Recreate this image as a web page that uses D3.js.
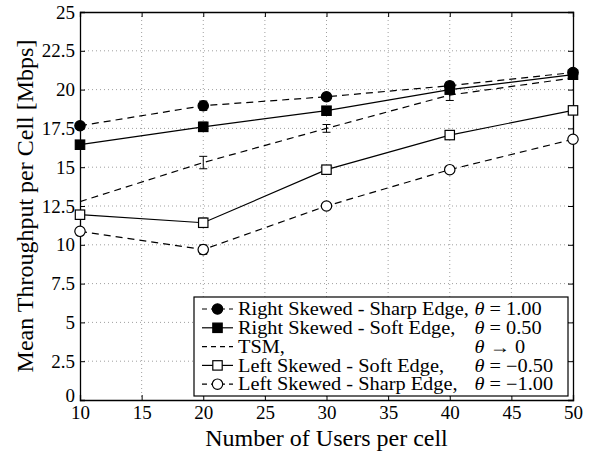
<!DOCTYPE html>
<html><head><meta charset="utf-8">
<script src="https://cdn.jsdelivr.net/npm/d3@7"></script>
<style>body{margin:0;background:#fff;}</style></head>
<body><svg id="c" width="592" height="452"></svg>
<script>
const users = [10, 20, 30, 40, 50];
const rightSharp = [17.67, 18.96, 19.54, 20.25, 21.1];
const rightSoft  = [16.45, 17.6, 18.64, 20.0, 20.96];
const tsm        = [12.78, 15.3, 17.5, 19.65, 20.75];
const leftSoft   = [11.94, 11.42, 14.84, 17.07, 18.66];
const leftSharp  = [10.87, 9.69, 12.5, 14.84, 16.8];
const rightSharpErr = [0, 0.3, 0.15, 0.2, 0];
const rightSoftErr  = [0, 0.3, 0.15, 0.2, 0];
const tsmErr        = [0, 0.4, 0.25, 0.35, 0];
const leftSoftErr   = [0, 0.3, 0.1, 0.1, 0];
const leftSharpErr  = [0, 0.3, 0.1, 0.1, 0];
const xTicks = [10, 15, 20, 25, 30, 35, 40, 45, 50];
const yTicks = [0, 2.5, 5, 7.5, 10, 12.5, 15, 17.5, 20, 22.5, 25];
const seriesNames = ["Right Skewed - Sharp Edge,", "Right Skewed - Soft Edge,", "TSM,", "Left Skewed - Soft Edge,", "Left Skewed - Sharp Edge,"];
const thetaLabels = ["= 1.00", "= 0.50", "→ 0", "= −0.50", "= −1.00"];

const FONT = '"Liberation Serif", "Times New Roman", Times, serif';
const series = [
  {name: seriesNames[0], theta: thetaLabels[0], vals: rightSharp, err: rightSharpErr, marker: "circle", fill: "#000", dash: "7,5"},
  {name: seriesNames[1], theta: thetaLabels[1], vals: rightSoft, err: rightSoftErr, marker: "square", fill: "#000", dash: null},
  {name: seriesNames[2], theta: thetaLabels[2], vals: tsm, err: tsmErr, marker: null, fill: null, dash: "7,5"},
  {name: seriesNames[3], theta: thetaLabels[3], vals: leftSoft, err: leftSoftErr, marker: "square", fill: "#fff", dash: null},
  {name: seriesNames[4], theta: thetaLabels[4], vals: leftSharp, err: leftSharpErr, marker: "circle", fill: "#fff", dash: "7,5"}
];

const L = 80, R = 573, T = 12, B = 400;
const svg = d3.select("#c");
const x = d3.scaleLinear().domain([10, 50]).range([L, R]);
const y = d3.scaleLinear().domain([0, 25]).range([B, T]);

// grid
const g = svg.append("g");
g.selectAll(".gx").data(xTicks.slice(1, -1)).enter().append("line")
  .attr("x1", d => x(d)).attr("x2", d => x(d)).attr("y1", T).attr("y2", B)
  .attr("stroke", "#888").attr("stroke-width", 0.8).attr("stroke-dasharray", "1,3");
g.selectAll(".gy").data(yTicks.slice(1, -1)).enter().append("line")
  .attr("y1", d => y(d)).attr("y2", d => y(d)).attr("x1", L).attr("x2", R)
  .attr("stroke", "#888").attr("stroke-width", 0.8).attr("stroke-dasharray", "1,3");

// axes
const fs = 19;
const xa = svg.append("g").attr("transform", `translate(0,${B})`)
  .call(d3.axisBottom(x).tickValues(xTicks).tickSize(-5).tickPadding(5).tickFormat(d3.format("d")));
const xa2 = svg.append("g").attr("transform", `translate(0,${T})`)
  .call(d3.axisTop(x).tickValues(xTicks).tickSize(-5).tickFormat(""));
const ya = svg.append("g").attr("transform", `translate(${L},0)`)
  .call(d3.axisLeft(y).tickValues(yTicks).tickSize(-5).tickPadding(5).tickFormat(d => d));
const ya2 = svg.append("g").attr("transform", `translate(${R},0)`)
  .call(d3.axisRight(y).tickValues(yTicks).tickSize(-5).tickFormat(""));
[xa, xa2, ya, ya2].forEach(a => {
  a.attr("font-family", FONT).attr("font-size", fs);
  a.select(".domain").attr("stroke", "#000").attr("stroke-width", 1.3);
  a.selectAll(".tick line").attr("stroke", "#000").attr("stroke-width", 1);
  a.selectAll("text").style("font-size", fs + "px").style("font-family", FONT).attr("fill", "#000");
});
xa.selectAll("text").attr("dy", "0.72em");
ya.selectAll(".tick").filter(d => d === 0).select("text").attr("dy", "0.1em");

// axis labels
svg.append("text").attr("x", (L + R) / 2).attr("y", 446).attr("text-anchor", "middle")
  .style("font-family", FONT).style("font-size", "24px").text("Number of Users per cell");
svg.append("text").attr("transform", `translate(33,${(T + B) / 2}) rotate(-90)`).attr("text-anchor", "middle")
  .style("font-family", FONT).style("font-size", "24px").text("Mean Throughput per Cell [Mbps]");

// lines
const line = d3.line().x((d, i) => x(users[i])).y(d => y(d));
function drawMarker(sel, type, fill, cx, cy) {
  if (type === "circle") {
    sel.append("circle").attr("cx", cx).attr("cy", cy).attr("r", 5.2)
      .attr("fill", fill).attr("stroke", "#000").attr("stroke-width", 1.2);
  } else if (type === "square") {
    sel.append("rect").attr("x", cx - 4.7).attr("y", cy - 4.7).attr("width", 9.4).attr("height", 9.4)
      .attr("fill", fill).attr("stroke", "#000").attr("stroke-width", 1.2);
  }
}
series.forEach(s => {
  svg.append("path").datum(s.vals).attr("d", line).attr("fill", "none")
    .attr("stroke", "#000").attr("stroke-width", 1.2)
    .attr("stroke-dasharray", s.dash);
  s.vals.forEach((v, i) => {
    const e = s.err[i];
    if (e > 0) {
      const cx = x(users[i]);
      svg.append("line").attr("x1", cx).attr("x2", cx).attr("y1", y(v - e)).attr("y2", y(v + e))
        .attr("stroke", "#000").attr("stroke-width", 1);
      [v - e, v + e].forEach(w => svg.append("line").attr("x1", cx - 4).attr("x2", cx + 4)
        .attr("y1", y(w)).attr("y2", y(w)).attr("stroke", "#000").attr("stroke-width", 1));
    }
  });
  const mg = svg.append("g");
  s.vals.forEach((v, i) => drawMarker(mg, s.marker, s.fill, x(users[i]), y(v)));
});

// legend
const lx0 = 194, ly0 = 297, lx1 = 568, ly1 = 396;
const lfs = 18;
svg.append("rect").attr("x", lx0).attr("y", ly0).attr("width", lx1 - lx0).attr("height", ly1 - ly0)
  .attr("fill", "#fff").attr("stroke", "#000").attr("stroke-width", 1.2);
const lt = svg.append("g").attr("transform", "translate(238,0) scale(1.13,1)");
const nameTexts = [];
series.forEach((s, i) => {
  const cy = 309 + i * 18.8;
  svg.append("line").attr("x1", 202).attr("x2", 233).attr("y1", cy).attr("y2", cy)
    .attr("stroke", "#000").attr("stroke-width", 1.2).attr("stroke-dasharray", s.dash ? "5,4" : null);
  drawMarker(svg, s.marker, s.fill, 217.5, cy);
  nameTexts.push(lt.append("text").attr("x", 0).attr("y", cy).attr("dy", "0.35em")
    .style("font-family", FONT).style("font-size", lfs + "px").text(s.name));
});
const maxW = d3.max(nameTexts, t => t.node().getComputedTextLength());
series.forEach((s, i) => {
  const cy = 309 + i * 18.8;
  const t = lt.append("text").attr("x", maxW + 5).attr("y", cy).attr("dy", "0.35em")
    .style("font-family", FONT).style("font-size", lfs + "px");
  t.append("tspan").style("font-style", "italic").text("θ");
  t.append("tspan").text(" " + s.theta);
});
</script></body></html>
